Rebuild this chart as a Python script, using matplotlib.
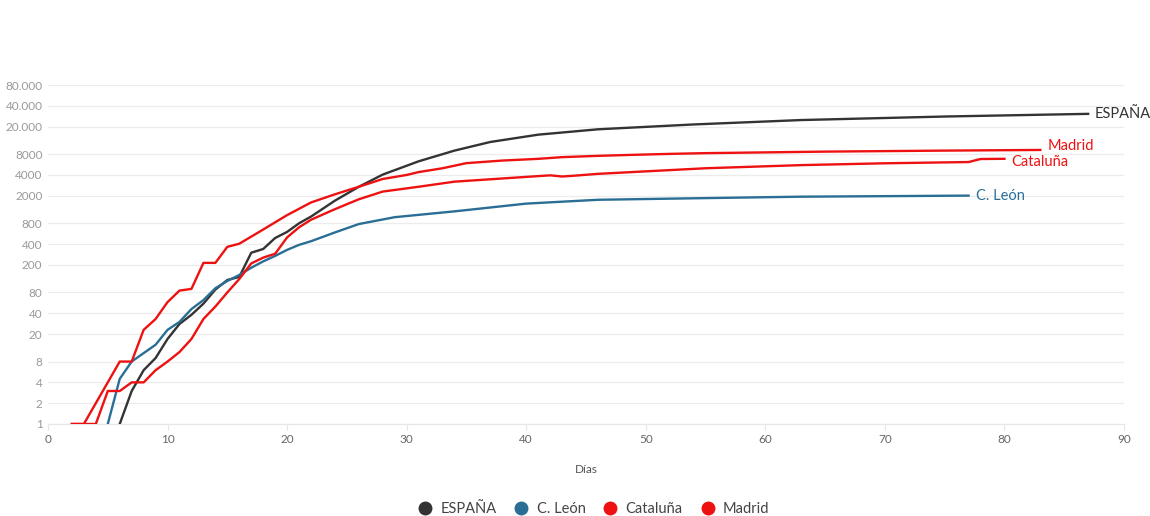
import numpy as np
import matplotlib.pyplot as plt
from matplotlib.lines import Line2D

plt.rcParams['font.family'] = ['Lato', 'DejaVu Sans']

# datos (dia, fallecidos acumulados)
espana_dias = [6, 7, 8, 9, 10, 11, 12, 13, 14, 15, 16, 17, 18, 19, 20, 21, 22, 24, 26, 28, 31, 34, 37, 41, 46, 54, 63, 75, 87]
espana_vals = [1, 3, 6, 9, 17, 28, 38, 55, 88, 121, 134, 300, 340, 490, 600, 800, 1000, 1700, 2700, 4050, 6300, 9000, 12000,
               15300, 18300, 21500, 24900, 28000, 30600]

leon_dias = [5, 6, 7, 8, 9, 10, 11, 12, 13, 14, 15, 16, 17, 18, 19, 20, 21, 22, 24, 26, 29, 34, 40, 46, 55, 63, 77]
leon_vals = [1, 4.5, 8, 10.6, 14, 23, 30, 46, 62, 92, 117, 143, 182, 225, 270, 330, 390, 440, 590, 780, 980, 1190, 1540,
             1750, 1850, 1940, 2010]

cat_dias = [2, 4, 5, 6, 7, 8, 9, 10, 11, 12, 13, 14, 15, 16, 17, 18, 19, 20, 21, 22, 24, 26, 28, 31, 34, 40, 42, 43, 44,
            46, 55, 63, 70, 77, 78, 80]
cat_vals = [1, 1, 3, 3, 4, 4, 6, 8, 11, 17, 33, 50, 80, 125, 210, 255, 290, 500, 700, 900, 1280, 1780, 2300, 2700, 3200,
            3750, 3950, 3800, 3900, 4150, 5000, 5550, 5900, 6150, 6800, 6850]

mad_dias = [2, 3, 6, 7, 8, 9, 10, 11, 12, 13, 14, 15, 16, 18, 20, 22, 24, 26, 28, 30, 31, 33, 35, 38, 41, 43, 46, 49, 52,
            55, 65, 75, 83]
mad_vals = [1, 1, 8, 8, 23, 33, 58, 85, 90, 214, 214, 365, 405, 650, 1050, 1600, 2100, 2700, 3500, 4000, 4400, 5000,
            5930, 6460, 6840, 7240, 7560, 7820, 8070, 8270, 8700, 9000, 9200]

series = [
    ('ESPAÑA', espana_dias, espana_vals, '#333333'),
    ('C. León', leon_dias, leon_vals, '#2a6e96'),
    ('Cataluña', cat_dias, cat_vals, '#ee1111'),
    ('Madrid', mad_dias, mad_vals, '#ee1111'),
]
# desplazamiento vertical de las etiquetas finales (puntos)
label_dy = {'ESPAÑA': 0, 'C. León': 0, 'Cataluña': -2.5, 'Madrid': 2.5}

yticks = [1, 2, 4, 8, 20, 40, 80, 200, 400, 800, 2000, 4000, 8000, 20000, 40000, 80000]
ylabels = ['1', '2', '4', '8', '20', '40', '80', '200', '400', '800', '2000', '4000', '8000',
           '20.000', '40.000', '80.000']

fig = plt.figure(figsize=(11.5, 5.16), dpi=100)
ax = fig.add_axes([48 / 1150, 1 - 424 / 516, (1124 - 48) / 1150, (424 - 85) / 516])

for name, d, v, c in series:
    ax.plot(d, v, color=c, lw=1.7, solid_joinstyle='round', zorder=3)
    ax.annotate(name, (d[-1], v[-1]), xytext=(5, label_dy[name]), textcoords='offset points',
                ha='left', va='center', color=c, fontsize=10.5)

ax.set_yscale('log')
ax.set_ylim(1, 80000)
ax.set_xlim(0, 90)
ax.set_yticks(yticks)
ax.set_yticklabels(ylabels)
ax.minorticks_off()
ax.set_xticks(np.arange(0, 91, 10))

ax.grid(axis='y', color='#ececec', lw=0.9)
ax.set_axisbelow(True)
for s in ['top', 'right', 'left']:
    ax.spines[s].set_visible(False)
ax.spines['bottom'].set_color('#e6e6e6')
ax.tick_params(axis='y', length=0, labelsize=8.5, labelcolor='#999999', pad=4)
ax.tick_params(axis='x', length=4, color='#e6e6e6', labelsize=8.5, labelcolor='#666666', pad=3)
ax.set_xlabel('Días', fontsize=8.5, color='#555555', labelpad=14)

handles = [Line2D([], [], ls='none', marker='o', markersize=9, color=c) for _, _, _, c in series]
fig.legend(handles, [s[0] for s in series], loc='lower center', bbox_to_anchor=(0.513, -0.025), ncol=4,
           frameon=False, fontsize=10.5, handletextpad=0.05, columnspacing=0.7, labelcolor='#444444')

fig.savefig('out.png', dpi=100)
